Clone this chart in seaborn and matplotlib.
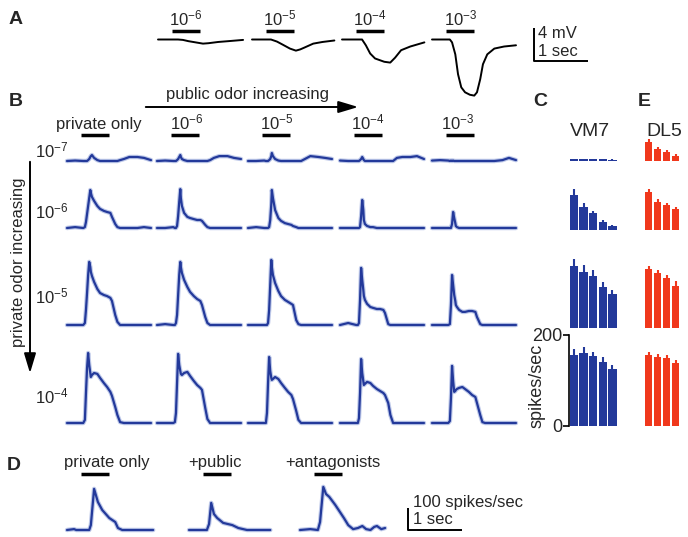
import numpy as np
import matplotlib
matplotlib.use('Agg')
import matplotlib.pyplot as plt
import matplotlib.transforms as mtransforms
from matplotlib.lines import Line2D
from matplotlib.patches import FancyArrowPatch
import seaborn as sns

# ── data ──────────────────────────────────────────────────────────────────────

ODOR_ON, ODOR_OFF = 0.26, 0.78      # s, odor pulse
TRACE_LEN = 1.55                    # s shown per trace

# A: membrane potential (mV) for public odor 1e-6 .. 1e-3
A_LABELS = [r'10$^{-6}$', r'10$^{-5}$', r'10$^{-4}$', r'10$^{-3}$']
A_6_T = [0, 0.37, 0.46, 0.56, 0.65, 0.74, 0.83, 0.93, 1.11, 1.30, 1.57]
A_6_V = [0, 0, -0.05, -0.2, -0.3, -0.4, -0.5, -0.45, -0.3, -0.2, -0.05]
A_5_T = [0, 0.35, 0.46, 0.56, 0.70, 0.81, 0.89, 0.96, 1.13, 1.30, 1.52]
A_5_V = [0, 0, -0.25, -0.6, -1.1, -1.35, -1.2, -1.0, -0.5, -0.3, -0.12]
A_4_T = [0, 0.37, 0.44, 0.52, 0.61, 0.78, 0.89, 0.98, 1.09, 1.26, 1.52]
A_4_V = [0, 0, -0.7, -1.7, -2.3, -2.7, -2.8, -2.2, -1.3, -0.85, -0.35]
A_3_T = [0, 0.33, 0.37, 0.43, 0.48, 0.54, 0.61, 0.70, 0.78, 0.83, 0.89, 0.94,
         1.02, 1.15, 1.33, 1.55]
A_3_V = [0, 0, -0.35, -1.8, -4.2, -5.8, -6.4, -6.7, -6.8, -6.4, -4.8, -3.0,
         -1.8, -1.1, -0.85, -0.7]

# B: PSTHs (spikes/sec); rows = private odor 1e-7..1e-4, cols = public none, 1e-6..1e-3
B_COLS = ['private only', r'10$^{-6}$', r'10$^{-5}$', r'10$^{-4}$', r'10$^{-3}$']
B_ROWS = [r'10$^{-7}$', r'10$^{-6}$', r'10$^{-5}$', r'10$^{-4}$']
B_T = [0.00, 0.15, 0.30, 0.33, 0.35, 0.37, 0.39, 0.41, 0.43, 0.44, 0.46, 0.50, 0.56,
       0.61, 0.68, 0.74, 0.80, 0.83, 0.89, 0.93, 0.98, 1.05, 1.15, 1.30, 1.42, 1.55]
B_PRIV7 = [
    [0, 2, 0, 0, 0, 0, 4, 9, 18, 22, 27, 14, 4, 0, 0, 0, 0, 0, 0, 0, 4, 9, 18, 18, 14, 4],
    [0, 2, 0, 0, 0, 4, 9, 18, 27, 18, 9, 4, 0, 0, 0, 0, 0, 0, 0, 0, 4, 14, 22, 22, 14, 9],
    [0, 0, 2, 0, 0, 0, 4, 9, 22, 36, 22, 9, 2, 0, 0, 0, 0, 0, 0, 0, 0, 9, 22, 18, 14, 9],
    [2, 0, 0, 0, 0, 4, 9, 18, 9, 4, 0, 0, 0, 0, 0, 0, 0, 0, 0, 0, 0, 14, 18, 18, 22, 9],
    [2, 4, 2, 0, 2, 0, 2, 0, 0, 0, 0, 0, 0, 0, 0, 0, 0, 0, 0, 0, 0, 0, 0, 4, 14, 4],
]
B_PRIV6 = [
    [0, 4, 0, 4, 27, 63, 99, 135, 171, 158, 140, 122, 99, 86, 77, 72, 68, 50, 18, 4, 0, 0, 0, 0, 4, 0],
    [0, 0, 4, 0, 0, 9, 54, 117, 175, 135, 99, 68, 50, 45, 40, 36, 36, 32, 14, 4, 0, 0, 0, 0, 0, 0],
    [0, 4, 0, 0, 0, 0, 4, 36, 108, 171, 135, 81, 45, 32, 22, 18, 14, 9, 4, 0, 0, 0, 0, 0, 0, 0],
    [0, 0, 0, 0, 0, 4, 54, 126, 81, 36, 18, 9, 4, 4, 0, 0, 0, 0, 0, 0, 0, 0, 0, 0, 0, 0],
    [0, 0, 0, 0, 0, 18, 72, 45, 22, 9, 4, 0, 0, 0, 0, 0, 0, 0, 0, 0, 0, 0, 0, 0, 0, 0],
]
B_PRIV5 = [
    [0, 0, 0, 9, 68, 144, 225, 284, 261, 239, 221, 194, 162, 144, 135, 130, 122, 108, 45, 14, 0, 0, 0, 0, 0, 0],
    [0, 4, 0, 0, 9, 45, 135, 225, 284, 261, 234, 203, 171, 149, 130, 117, 108, 90, 36, 9, 0, 0, 0, 0, 0, 0],
    [0, 0, 0, 0, 0, 9, 68, 180, 293, 261, 225, 189, 153, 130, 113, 104, 95, 90, 22, 4, 0, 0, 0, 0, 0, 0],
    [0, 9, 0, 0, 9, 113, 257, 203, 158, 131, 113, 95, 81, 77, 72, 72, 68, 54, 4, 0, 0, 0, 0, 0, 0, 0],
    [0, 0, 0, 4, 90, 225, 180, 135, 108, 90, 81, 68, 59, 59, 63, 63, 59, 36, 4, 0, 0, 0, 0, 0, 0, 0],
]
B_PRIV4 = [
    [0, 0, 0, 14, 135, 248, 315, 261, 225, 207, 216, 225, 221, 203, 180, 162, 140, 122, 72, 36, 4, 0, 0, 0, 0, 0],
    [0, 0, 0, 4, 45, 180, 311, 261, 234, 221, 216, 225, 230, 212, 189, 171, 158, 149, 68, 18, 0, 0, 0, 0, 0, 0],
    [0, 0, 0, 0, 45, 180, 297, 234, 203, 194, 198, 207, 198, 180, 158, 140, 126, 108, 54, 14, 0, 0, 0, 0, 0, 0],
    [0, 0, 0, 0, 22, 135, 288, 225, 189, 171, 176, 185, 180, 167, 153, 144, 135, 126, 90, 36, 0, 0, 0, 0, 0, 0],
    [0, 0, 0, 9, 113, 257, 189, 140, 144, 149, 153, 158, 162, 153, 140, 126, 117, 90, 36, 4, 0, 0, 0, 0, 0, 0],
]

# C / E: mean odor-evoked rate (spikes/sec) per private level, bars = public level
VM7_LEVELS = ['none', '1e-6', '1e-5', '1e-4', '1e-3']
VM7_MEAN = [[4, 4, 4, 4, 3], [77, 50, 37, 18, 8],
            [136, 123, 114, 90, 75], [156, 160, 152, 140, 125]]
VM7_SEM = [[1, 1, 1, 1, 2], [13, 9, 5, 3, 3],
           [15, 15, 13, 10, 9], [13, 12, 10, 10, 9]]
DL5_LEVELS = ['none', '1e-6', '1e-5', '1e-4']
DL5_MEAN = [[42, 26, 20, 11], [83, 61, 54, 46],
            [129, 120, 109, 92], [155, 151, 149, 138]]
DL5_SEM = [[6, 5, 5, 4], [7, 7, 6, 5], [7, 7, 7, 10], [7, 7, 6, 7]]

# D: PSTHs (spikes/sec)
D_LABELS = ['private only', '+public', '+antagonists']
D_PRIV_T = [0, 0.13, 0.17, 0.41, 0.44, 0.50, 0.57, 0.65, 0.78, 0.89, 0.94, 1.02, 1.30, 1.59]
D_PRIV_V = [0, 4, 0, 0, 22, 185, 126, 90, 54, 36, 9, 0, 0, 0]
D_PUB_T = [0, 0.19, 0.33, 0.37, 0.41, 0.46, 0.52, 0.63, 0.80, 0.91, 1.07, 1.50]
D_PUB_V = [0, 0, 0, 27, 122, 72, 54, 32, 22, 9, 0, 0]
D_ANT_T = [0, 0.19, 0.33, 0.37, 0.43, 0.48, 0.54, 0.65, 0.81, 0.89, 0.98, 1.07,
           1.15, 1.22, 1.30, 1.37, 1.42, 1.50, 1.57]
D_ANT_V = [0, 4, 0, 36, 194, 162, 149, 113, 54, 22, 4, 9, 18, 4, 0, 14, 18, 4, 9]

# ── layout / style ────────────────────────────────────────────────────────────

W, H = 688, 537
TRACE_W = 84          # px per trace
RATE_PX = 4.5         # spikes/sec per px in traces
MV_PX = 8.25          # px per mV
BAR_H = 91.5          # px for 0..200 spikes/sec in bar charts
BLUE = '#23399a'
HALO = '#a3b2e0'
RED = '#f0381c'

sns.set_style('white')
plt.rcParams['font.family'] = ['Liberation Sans', 'DejaVu Sans']
plt.rcParams['mathtext.default'] = 'regular'

fig = plt.figure(figsize=(W / 100, H / 100), dpi=100)


def px_axes(x, y_top, w, h):
    return fig.add_axes([x / W, 1 - (y_top + h) / H, w / W, h / H])


def ptext(x, y, s, **kw):
    kw.setdefault('fontsize', 12)
    fig.text(x / W, 1 - y / H, s, **kw)


def pline(xs, ys, lw=1.4):
    fig.add_artist(Line2D([x / W for x in xs], [1 - y / H for y in ys],
                          color='k', lw=lw, solid_capstyle='butt',
                          transform=fig.transFigure))


def trace_axes(x0, y_base, lo, hi, per_px):
    h = (hi - lo) / per_px
    ax = px_axes(x0, y_base - hi / per_px, TRACE_W, h)
    ax.set_xlim(0, TRACE_LEN)
    ax.set_ylim(lo, hi)
    ax.axis('off')
    ax.patch.set_alpha(0)
    return ax


def odor_bar(ax, y):
    trans = mtransforms.blended_transform_factory(ax.transData, fig.transFigure)
    ax.plot([ODOR_ON, ODOR_OFF], [1 - y / H] * 2, transform=trans, color='k',
            lw=2.5, solid_capstyle='butt', clip_on=False)


def psth(ax, t, v):
    sns.lineplot(x=t, y=v, ax=ax, color=HALO, lw=3.2, alpha=0.7,
                 estimator=None, sort=False)
    sns.lineplot(x=t, y=v, ax=ax, color=BLUE, lw=1.6,
                 estimator=None, sort=False)
    for ln in ax.lines:
        ln.set_clip_on(False)
        ln.set_solid_joinstyle('round')


# ── panel A ───────────────────────────────────────────────────────────────────

ptext(16, 20, 'A', fontsize=14, fontweight='bold', ha='center', va='center')
a_x0 = [158, 252, 342, 432]
a_base = 39.5
for x0, lab, (t, v) in zip(a_x0, A_LABELS, [(A_6_T, A_6_V), (A_5_T, A_5_V),
                                           (A_4_T, A_4_V), (A_3_T, A_3_V)]):
    ax = trace_axes(x0, a_base, -7.5, 0.5, 1 / MV_PX)
    sns.lineplot(x=t, y=v, ax=ax, color='k', lw=1.4, estimator=None, sort=False)
    for ln in ax.lines:
        ln.set_clip_on(False)
    odor_bar(ax, 31)
    xc = x0 + (ODOR_ON + ODOR_OFF) / 2 * TRACE_W / TRACE_LEN
    ptext(xc, 25, lab, ha='center', va='baseline')

# scale bar 4 mV / 1 sec
sx, sy = 534, 61
pline([sx, sx, sx + TRACE_W / TRACE_LEN], [sy - 4 * MV_PX, sy, sy])
ptext(538, 34, '4 mV', ha='left', va='center')
ptext(538, 51, '1 sec', ha='left', va='center')

# ── panel B ───────────────────────────────────────────────────────────────────

ptext(16, 102, 'B', fontsize=14, fontweight='bold', ha='center', va='center')
ptext(247, 95, 'public odor increasing', ha='center', va='center')
fig.add_artist(FancyArrowPatch((143 / W, 1 - 107 / H), (361 / W, 1 - 107 / H),
                               transform=fig.transFigure, color='k', lw=1.4,
                               arrowstyle='-|>,head_length=1.2,head_width=0.36',
                               mutation_scale=10))
fig.add_artist(FancyArrowPatch((30 / W, 1 - 159 / H), (30 / W, 1 - 376 / H),
                               transform=fig.transFigure, color='k', lw=1.4,
                               arrowstyle='-|>,head_length=1.2,head_width=0.36',
                               mutation_scale=10))
ptext(19, 262, 'private odor increasing', rotation=90, ha='center', va='center')

b_x0 = [67, 157, 248, 340, 432]
b_base = [161, 228, 325, 423]
b_lab_x = [99, 187, 277, 368, 458]
row_lab_y = [157, 218, 303, 403]
for r, rows in enumerate([B_PRIV7, B_PRIV6, B_PRIV5, B_PRIV4]):
    ptext(35, row_lab_y[r], B_ROWS[r], ha='left', va='baseline')
    for c, vals in enumerate(rows):
        ax = trace_axes(b_x0[c], b_base[r], -15, 360, RATE_PX)
        psth(ax, B_T, vals)
        if r == 0:
            odor_bar(ax, 135)
for c, lab in enumerate(B_COLS):
    ptext(b_lab_x[c], 129, lab, ha='center', va='baseline')

# ── panels C and E ────────────────────────────────────────────────────────────

ptext(540, 101, 'C', fontsize=14, fontweight='bold', ha='center', va='center')
ptext(644, 101, 'E', fontsize=14, fontweight='bold', ha='center', va='center')
ptext(590, 131, 'VM7', fontsize=14, ha='center', va='center')
ptext(664, 131, 'DL5', fontsize=14, ha='center', va='center')

bar_base = [161, 230, 328, 426]
for levels, means, sems, color, x0, w, bw in [
        (VM7_LEVELS, VM7_MEAN, VM7_SEM, BLUE, 569.2, 48, 0.86),
        (DL5_LEVELS, DL5_MEAN, DL5_SEM, RED, 644, 36, 0.78)]:
    for r in range(4):
        ax = px_axes(x0, bar_base[r] - BAR_H, w, BAR_H)
        ax.patch.set_alpha(0)
        sns.barplot(x=levels, y=means[r], ax=ax, color=color, width=bw,
                    saturation=1, errorbar=None, linewidth=0, edgecolor=color)
        ax.vlines(range(len(levels)), means[r], np.add(means[r], sems[r]),
                  color=color, lw=1.5)
        ax.set_xlim(-0.5, len(levels) - 0.5)
        ax.set_ylim(0, 200)
        ax.set_xlabel('')
        ax.set_ylabel('')
        if color == BLUE and r == 3:
            sns.despine(ax=ax, bottom=True)
            ax.spines['left'].set_color('k')
            ax.spines['left'].set_linewidth(1.2)
            ax.set_xticks([])
            ax.set_yticks([0, 200])
            ax.tick_params(axis='y', left=True, direction='out', length=4,
                           width=1.2, pad=1, labelsize=13, color='k')
        else:
            ax.axis('off')
ptext(537, 386, 'spikes/sec', fontsize=13, rotation=90, ha='center', va='center')

# ── panel D ───────────────────────────────────────────────────────────────────

ptext(14, 466, 'D', fontsize=14, fontweight='bold', ha='center', va='center')
d_x0 = [67, 189, 300]
d_lab_x = [107, 215, 333]
for x0, lab, lx, (t, v) in zip(d_x0, D_LABELS, d_lab_x,
                               [(D_PRIV_T, D_PRIV_V), (D_PUB_T, D_PUB_V),
                                (D_ANT_T, D_ANT_V)]):
    ax = trace_axes(x0, 530, -15, 360, RATE_PX)
    psth(ax, t, v)
    odor_bar(ax, 474)
    ptext(lx, 467, lab, ha='center', va='baseline')

# scale bar 100 spikes/sec / 1 sec
sx, sy = 408, 530
pline([sx, sx, sx + TRACE_W / TRACE_LEN], [sy - 100 / RATE_PX, sy, sy])
ptext(413, 502, '100 spikes/sec', ha='left', va='center')
ptext(413, 519, '1 sec', ha='left', va='center')

fig.savefig('out.png', dpi=100)
